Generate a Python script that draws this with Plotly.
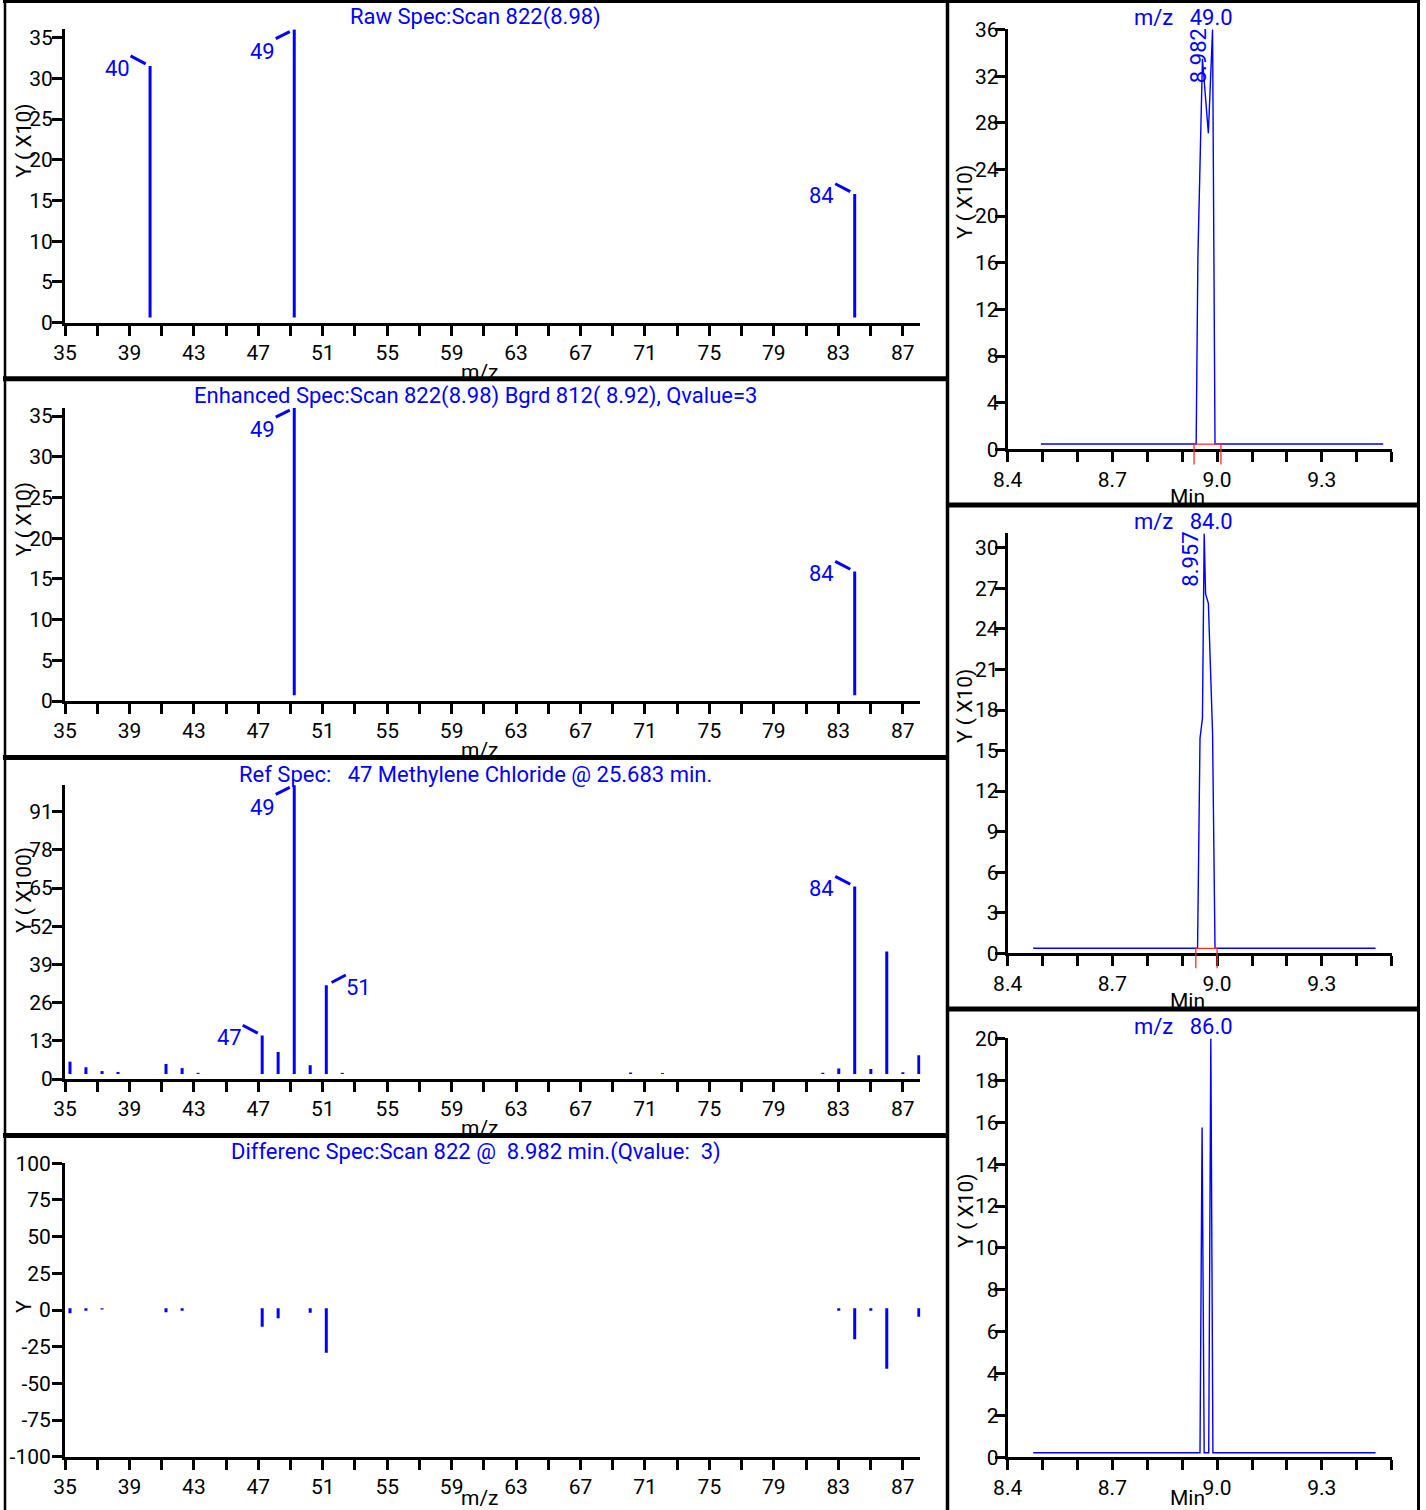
import plotly.graph_objects as go

W, H = 1426, 1510
BLUE = "#0000ff"
RED = "#ff2a2a"
BLACK = "#000000"
FONT = "Roboto"
FS = 21          # tick labels / axis titles
FT = 22          # blue titles and peak labels
NB = "\u00a0"

# ================= data =================
mz_tick_vals = [35, 37, 39, 41, 43, 45, 47, 49, 51, 53, 55, 57, 59, 61, 63, 65,
                67, 69, 71, 73, 75, 77, 79, 81, 83, 85, 87]
mz_tick_text = ["35", "", "39", "", "43", "", "47", "", "51", "", "55", "", "59", "",
                "63", "", "67", "", "71", "", "75", "", "79", "", "83", "", "87"]
spec_y_ticks = [0, 5, 10, 15, 20, 25, 30, 35]
ref_y_ticks = [0, 13, 26, 39, 52, 65, 78, 91]
diff_y_ticks = [-100, -75, -50, -25, 0, 25, 50, 75, 100]
rt_tick_vals = [8.4, 8.5, 8.6, 8.7, 8.8, 8.9, 9.0, 9.1, 9.2, 9.3, 9.4, 9.5]
rt_tick_text = ["8.4", "", "", "8.7", "", "", "9.0", "", "", "9.3", "", ""]
c49_y_ticks = [0, 4, 8, 12, 16, 20, 24, 28, 32, 36]
c84_y_ticks = [0, 3, 6, 9, 12, 15, 18, 21, 24, 27, 30]
c86_y_ticks = [0, 2, 4, 6, 8, 10, 12, 14, 16, 18, 20]

# Raw spectrum, scan 822 (Y x10); *_mz = stick positions as drawn on the axis,
# *_nominal = the nominal m/z used for the peak labels
raw_nominal = [40, 49, 84]
raw_mz = [40.28, 49.23, 84.02]
raw_int = [31.5, 36.0, 15.8]
raw_labeled = [40, 49, 84]

# Enhanced spectrum (Y x10)
enh_nominal = [49, 84]
enh_mz = [49.23, 84.02]
enh_int = [36.0, 15.9]
enh_labeled = [49, 84]

# Reference spectrum (Y x100)
ref_nominal = [35, 36, 37, 38, 41, 42, 43, 47, 48, 49, 50, 51, 52, 70, 72,
               82, 83, 84, 85, 86, 87, 88]
ref_mz = [35.31, 36.30, 37.30, 38.29, 41.27, 42.27, 43.26, 47.24, 48.23, 49.23, 50.22,
          51.22, 52.21, 70.11, 72.09, 82.04, 83.03, 84.02, 85.02, 86.01, 87.01, 88.00]
ref_int = [5.9, 4.0, 2.7, 2.4, 5.1, 3.7, 2.1, 14.8, 9.2, 100.0, 4.7, 31.9, 2.1, 2.2, 2.0,
           2.1, 3.6, 65.5, 3.4, 43.4, 2.3, 8.1]
ref_labeled = [47, 49, 51, 84]

# Difference spectrum (Y)
diff_mz = [35.31, 36.30, 37.30, 41.27, 42.27, 47.24, 48.23, 50.22, 51.22,
           83.03, 84.02, 85.02, 86.01, 88.00]
diff_int = [-2.3, -0.5, 0.4, -1.6, -0.5, -11.4, -5.7, -1.8, -29.1,
            -0.5, -20.0, -0.5, -40.0, -4.6]

# Extracted ion chromatograms (Y x10 vs Min)
t49 = [8.495, 8.940, 8.945, 8.958, 8.975, 8.987, 8.994, 9.476]
i49 = [0.46, 0.46, 16.5, 33.5, 27.1, 36.0, 0.46, 0.46]
t84 = [8.473, 8.944, 8.951, 8.958, 8.963, 8.967, 8.975, 8.987, 8.994, 9.454]
i84 = [0.37, 0.37, 15.9, 17.4, 31.06, 26.6, 25.9, 16.3, 0.37, 0.37]
t86 = [8.473, 8.951, 8.957, 8.963, 8.976, 8.982, 8.988, 9.454]
i86 = [0.22, 0.22, 15.75, 0.22, 0.22, 20.0, 0.22, 0.22]

rt49_label = "8.982"
rt49 = 8.982
rt84_label = "8.957"
rt84 = 8.957
window49 = [8.934, 9.011]
window84 = [8.939, 9.000]

# texts
title_raw = "Raw Spec:Scan 822(8.98)"
title_enh = "Enhanced Spec:Scan 822(8.98) Bgrd 812(" + NB + "8.92), Qvalue=3"
title_ref = "Ref Spec:" + NB * 3 + "47 Methylene Chloride @ 25.683 min."
title_diff = "Differenc Spec:Scan 822 @" + NB * 2 + "8.982 min.(Qvalue:" + NB * 2 + "3)"
title_c49 = "m/z" + NB * 3 + "49.0"
title_c84 = "m/z" + NB * 3 + "84.0"
title_c86 = "m/z" + NB * 3 + "86.0"

# ================= layout geometry (pixels) =================
MZ_RANGE = [35, 88.1]
LX = (65.0, 65.0 + 53.1 * 16.11)
LEFT_Y = [(29.3, 322.7), (407.7, 701.0), (785.0, 1079.0), (1163.3, 1456.7)]
RX = (1007.7, 1391.6)
RIGHT_Y = [(29.3, 449.4), (533.3, 953.3), (1038.3, 1457.3)]
LEFT_CX = 475.5
RIGHT_CX = 1183.0


def fx(px):
    return px / W


def fy(py):
    return 1 - py / H


fig = go.Figure()
L = {}
ann = []
shp = []


def ax_style():
    return dict(showline=True, linewidth=3, linecolor=BLACK,
                ticks="outside", ticklen=10, tickwidth=3, tickcolor=BLACK,
                showgrid=False, zeroline=False, fixedrange=True, automargin=False,
                tickfont=dict(family=FONT, size=FS, color=BLACK),
                tickmode="array")


def make_axes(n, xpx, ypx, xr, yr, xtv, xtt, ytv, ystand):
    s = "" if n == 1 else str(n)
    xa = ax_style()
    xa.update(domain=[fx(xpx[0]), fx(xpx[1])], range=xr, anchor="y" + s,
              tickvals=xtv, ticktext=xtt, ticklabelstandoff=-1)
    ya = ax_style()
    ya.update(domain=[fy(ypx[1]), fy(ypx[0])], range=yr, anchor="x" + s,
              tickvals=ytv, ticktext=[str(v) for v in ytv], ticklabelstandoff=ystand)
    L["xaxis" + s] = xa
    L["yaxis" + s] = ya
    return "x" + s, "y" + s


def add_sticks(xr, yr, mz, vals, base):
    xs, ys = [], []
    for m, v in zip(mz, vals):
        xs += [m, m, None]
        ys += [base, v, None]
    fig.add_trace(go.Scatter(x=xs, y=ys, xaxis=xr, yaxis=yr, mode="lines",
                             line=dict(color=BLUE, width=3), hoverinfo="skip"))


FLAG_STYLE = {
    "left": dict(ax=-21, ay=-11, standoff=5, dx=-33, dy=2),
    "top": dict(ax=-20, ay=10, standoff=5, dx=-32, dy=22),
    "right": dict(ax=21, ay=-11, standoff=6, dx=32, dy=2),
}


def add_flags(xr, yr, nominal, mz, vals, labeled, styles):
    for lab in labeled:
        k = nominal.index(lab)
        m, v = mz[k], vals[k]
        st = FLAG_STYLE[styles.get(lab, "left")]
        ann.append(dict(x=m, y=v, xref=xr, yref=yr, text="", showarrow=True,
                        arrowhead=0, arrowwidth=3, arrowcolor=BLUE,
                        ax=st["ax"], ay=st["ay"], standoff=st["standoff"]))
        ann.append(dict(x=m, y=v, xref=xr, yref=yr, text=str(lab), showarrow=False,
                        xshift=st["dx"], yshift=-st["dy"],
                        font=dict(family=FONT, size=FT, color=BLUE)))


def text_px(x, y, text, color=BLUE, angle=0, size=FT):
    ann.append(dict(xref="paper", yref="paper", x=fx(x), y=fy(y), text=text,
                    showarrow=False, textangle=angle, xanchor="center", yanchor="middle",
                    font=dict(family=FONT, size=size, color=color)))


def axis_titles(xpx, ypx, ytitle, frac, xtitle, xt_cx):
    text_px(xpx[0] - 41, ypx[1] - frac * (ypx[1] - ypx[0]), ytitle, BLACK, -90, FS)
    text_px(xt_cx, ypx[1] + 49, xtitle, BLACK, 0, FS)


# ---------- left column: spectra ----------
x1, y1 = make_axes(1, LX, LEFT_Y[0], MZ_RANGE, [0, 36.02], mz_tick_vals, mz_tick_text, spec_y_ticks, -5)
add_sticks(x1, y1, raw_mz, raw_int, 0.65)
add_flags(x1, y1, raw_nominal, raw_mz, raw_int, raw_labeled, {49: "top"})
text_px(LEFT_CX, LEFT_Y[0][0] - 12, title_raw)
axis_titles(LX, LEFT_Y[0], "Y ( X10)", 0.62, "m/z", 480)

x2, y2 = make_axes(2, LX, LEFT_Y[1], MZ_RANGE, [0, 36.02], mz_tick_vals, mz_tick_text, spec_y_ticks, -5)
add_sticks(x2, y2, enh_mz, enh_int, 0.7)
add_flags(x2, y2, enh_nominal, enh_mz, enh_int, enh_labeled, {49: "top"})
text_px(LEFT_CX, LEFT_Y[1][0] - 12, title_enh)
axis_titles(LX, LEFT_Y[1], "Y ( X10)", 0.62, "m/z", 480)

x3, y3 = make_axes(3, LX, LEFT_Y[2], MZ_RANGE, [0, 100.05], mz_tick_vals, mz_tick_text, ref_y_ticks, -5)
add_sticks(x3, y3, ref_mz, ref_int, 1.7)
add_flags(x3, y3, ref_nominal, ref_mz, ref_int, ref_labeled, {49: "top", 51: "right"})
text_px(LEFT_CX, LEFT_Y[2][0] - 11, title_ref)
axis_titles(LX, LEFT_Y[2], "Y ( X100)", 0.643, "m/z", 480)

x4, y4 = make_axes(4, LX, LEFT_Y[3], MZ_RANGE, [-100, 100], mz_tick_vals, mz_tick_text, diff_y_ticks, -3)
add_sticks(x4, y4, diff_mz, diff_int, 1.2)
text_px(LEFT_CX, LEFT_Y[3][0] - 11, title_diff)
text_px(LX[0] - 41, LEFT_Y[3][1] - 0.51 * (LEFT_Y[3][1] - LEFT_Y[3][0]), "Y", BLACK, -90, FS)
text_px(480, 1498, "m/z", BLACK, 0, FS)

# ---------- right column: chromatograms ----------
chroms = [
    (5, RIGHT_Y[0], [0, 36.02], c49_y_ticks, t49, i49, title_c49, rt49, rt49_label, window49),
    (6, RIGHT_Y[1], [0, 31.08], c84_y_ticks, t84, i84, title_c84, rt84, rt84_label, window84),
    (7, RIGHT_Y[2], [0, 20.01], c86_y_ticks, t86, i86, title_c86, None, None, None),
]
for n, ypx, yr, ytv, tt, ii, title, rt, rtl, win in chroms:
    xr, yrf = make_axes(n, RX, ypx, [8.4, 9.5], yr, rt_tick_vals, rt_tick_text, ytv, -8)
    fig.add_trace(go.Scatter(x=tt, y=ii, xaxis=xr, yaxis=yrf, mode="lines",
                             line=dict(color=BLUE, width=1.4), hoverinfo="skip"))
    text_px(RIGHT_CX, ypx[0] - 12, title)
    text_px(RX[0] - 42, ypx[1] - 0.588 * (ypx[1] - ypx[0]), "Y ( X10)", BLACK, -90, FS)
    text_px(1187.5, min(ypx[1] + 48, 1498), "Min", BLACK, 0, FS)
    if rt is not None:
        ann.append(dict(x=rt, y=max(ii), xref=xr, yref=yrf, text=rtl, showarrow=False,
                        textangle=-90, xshift=-12, yshift=-26,
                        font=dict(family=FONT, size=FT, color=BLUE)))
    if win is not None:
        base = ii[0]
        hpx = ypx[1] - ypx[0]
        ytop = base / yr[1]
        ybot = -15.0 / hpx
        for t in win:
            shp.append(dict(type="line", xref=xr, yref=yrf + " domain", x0=t, x1=t,
                            y0=ybot, y1=ytop, line=dict(color=RED, width=1.3), layer="above"))
        shp.append(dict(type="line", xref=xr, yref=yrf, x0=win[0], x1=win[1],
                        y0=base, y1=base, line=dict(color=RED, width=1.3), layer="above"))


# ---------- panel borders ----------
def line_px(x0, y0, x1, y1, w):
    shp.append(dict(type="line", xref="paper", yref="paper", x0=fx(x0), y0=fy(y0),
                    x1=fx(x1), y1=fy(y1), line=dict(color=BLACK, width=w), layer="above"))


line_px(3, 1.5, 1420, 1.5, 3)
line_px(5, 0, 5, H, 2.5)
line_px(1418.5, 0, 1418.5, H, 3)
line_px(947.5, 0, 947.5, H, 3.5)
for yb in (378.8, 757.5, 1135.5):
    line_px(3, yb, 948, yb, 5)
for yb in (505.0, 1009.0):
    line_px(946, yb, 1420, yb, 5)

L.update(width=W, height=H, margin=dict(l=0, r=0, t=0, b=0, pad=0, autoexpand=False),
         paper_bgcolor="white", plot_bgcolor="rgba(0,0,0,0)",
         showlegend=False, hovermode=False,
         font=dict(family=FONT, size=FS, color=BLACK),
         annotations=ann, shapes=shp)
fig.update_layout(**L)

fig.write_html("out.html", config={"displayModeBar": False, "staticPlot": True},
               post_script="document.body.style.margin='0';")
